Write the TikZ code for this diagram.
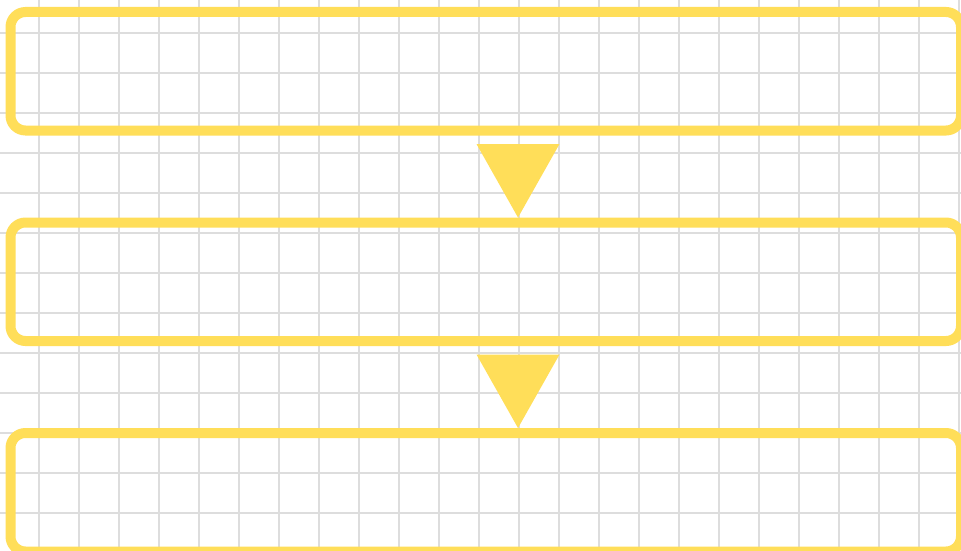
\documentclass[tikz,border=0pt]{standalone}
\usetikzlibrary{calc}
\definecolor{boxyellow}{HTML}{FFDE59}
\definecolor{gridgray}{HTML}{DDDDDD}
\tikzset{
  stagebox/.style={draw=boxyellow, line width=10pt, rounded corners=15pt,
    minimum width=950.5pt, minimum height=118.5pt, inner sep=0pt, outer sep=0pt, fill=none},
  gridline/.style={draw=gridgray, line width=2.2pt},
  downtri/.style={fill=boxyellow, draw=none}
}
\begin{document}
\begin{tikzpicture}[x=1pt,y=-1pt]
\useasboundingbox (0,0) rectangle (961,551);
\clip (0,0) rectangle (961,551);
\fill[white] (0,0) rectangle (961,551);
% grid
\foreach \i in {0,...,23} {
  \draw[gridline] (39+40*\i,0) -- (39+40*\i,551);
}
\foreach \j in {0,...,13} {
  \draw[gridline] (0,33+40*\j) -- (961,33+40*\j);
}
% boxes
\node[stagebox] (b1) at (485.75,71.25) {};
\node[stagebox] (b2) at (485.75,281.75) {};
\node[stagebox] (b3) at (485.75,492.25) {};
% arrow heads between the boxes
\coordinate (a1) at ($(b1.south)+(32.25,0)$);
\coordinate (a2) at ($(b2.south)+(32.25,0)$);
\fill[downtri] ($(a1)+(-41.5,13.5)$) -- ($(a1)+(41.5,13.5)$) -- ($(a1)+(0,87)$) -- cycle;
\fill[downtri] ($(a2)+(-41.5,13.5)$) -- ($(a2)+(41.5,13.5)$) -- ($(a2)+(0,87)$) -- cycle;
\end{tikzpicture}
\end{document}
